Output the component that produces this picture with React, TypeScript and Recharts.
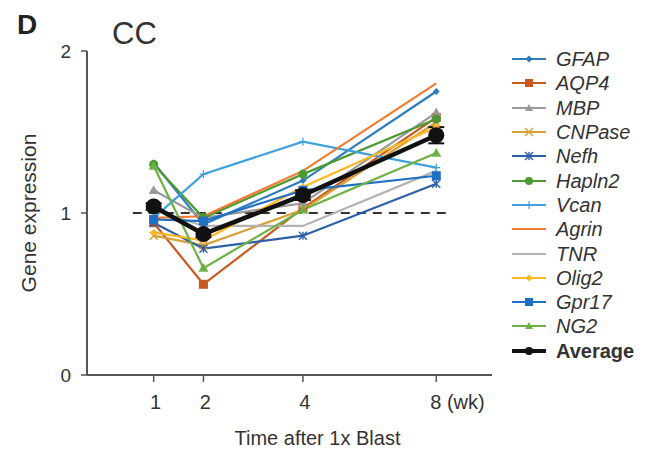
import React from "react";
import { LineChart, Line, XAxis, YAxis, ReferenceLine, ErrorBar } from "recharts";

const FONT = "'Liberation Sans', Arial, Helvetica, sans-serif";

// weeks after blast
const weeks = [1, 2, 4, 8];
const weekLabels = ["1", "2", "4", "8 (wk)"];

// relative gene expression, one value per week
const GFAP = [1.31, 0.93, 1.2, 1.75];
const AQP4 = [0.94, 0.56, 1.03, 1.59];
const MBP = [1.14, 0.97, 1.06, 1.62];
const CNPase = [0.86, 0.8, 1.02, 1.56];
const Nefh = [0.94, 0.78, 0.86, 1.18];
const Hapln2 = [1.3, 0.97, 1.24, 1.58];
const Vcan = [0.97, 1.24, 1.44, 1.28];
const Agrin = [0.97, 0.98, 1.26, 1.8];
const TNR = [1.02, 0.92, 0.92, 1.26];
const Olig2 = [0.88, 0.83, 1.16, 1.53];
const Gpr17 = [0.96, 0.95, 1.14, 1.23];
const NG2 = [1.29, 0.66, 1.02, 1.37];
const Average = [1.04, 0.87, 1.11, 1.48];
const AverageErr = [0.02, 0.02, 0.03, 0.05];

// the original axis squeezes the 4 -> 8 wk gap
const xPos = (w: number) => (w <= 4 ? w : 4 + (w - 4) * 0.67);

const series = [
  { key: "GFAP", values: GFAP, color: "#2f7dbd", shape: "diamond", size: 3.5 },
  { key: "AQP4", values: AQP4, color: "#c9591f", shape: "square", size: 4.5 },
  { key: "MBP", values: MBP, color: "#9a9a9a", shape: "triangle", size: 5 },
  { key: "CNPase", values: CNPase, color: "#d9a035", shape: "cross", size: 4 },
  { key: "Nefh", values: Nefh, color: "#2d5fa9", shape: "star", size: 4 },
  { key: "Hapln2", values: Hapln2, color: "#4c9a32", shape: "circle", size: 4.5 },
  { key: "Vcan", values: Vcan, color: "#3fa1de", shape: "plus", size: 4 },
  { key: "Agrin", values: Agrin, color: "#f07a30", shape: "none", size: 0 },
  { key: "TNR", values: TNR, color: "#b3b3b3", shape: "none", size: 0 },
  { key: "Olig2", values: Olig2, color: "#fbb725", shape: "diamond", size: 3.5 },
  { key: "Gpr17", values: Gpr17, color: "#1f6fc4", shape: "square", size: 4.5 },
  { key: "NG2", values: NG2, color: "#6db244", shape: "triangle", size: 5 },
];

const rows = weeks.map((w, i) => {
  const row: Record<string, number> = { pos: xPos(w), week: w, Average: Average[i], avgErr: AverageErr[i] };
  series.forEach((s) => {
    row[s.key] = s.values[i];
  });
  return row;
});

function Marker({ shape, cx, cy, color, size }: any) {
  const r = size;
  if (shape === "none") return null;
  if (shape === "circle") return <circle cx={cx} cy={cy} r={r} fill={color} />;
  if (shape === "square") return <rect x={cx - r} y={cy - r} width={r * 2} height={r * 2} fill={color} />;
  if (shape === "diamond")
    return <polygon points={`${cx},${cy - r} ${cx + r},${cy} ${cx},${cy + r} ${cx - r},${cy}`} fill={color} />;
  if (shape === "triangle")
    return <polygon points={`${cx},${cy - r} ${cx + r},${cy + r * 0.75} ${cx - r},${cy + r * 0.75}`} fill={color} />;
  if (shape === "plus")
    return (
      <g stroke={color} strokeWidth={1.2}>
        <line x1={cx - r} y1={cy} x2={cx + r} y2={cy} />
        <line x1={cx} y1={cy - r} x2={cx} y2={cy + r} />
      </g>
    );
  if (shape === "cross")
    return (
      <g stroke={color} strokeWidth={1.4}>
        <line x1={cx - r} y1={cy - r} x2={cx + r} y2={cy + r} />
        <line x1={cx - r} y1={cy + r} x2={cx + r} y2={cy - r} />
      </g>
    );
  // asterisk
  return (
    <g stroke={color} strokeWidth={1.4}>
      <line x1={cx - r} y1={cy - r} x2={cx + r} y2={cy + r} />
      <line x1={cx - r} y1={cy + r} x2={cx + r} y2={cy - r} />
      <line x1={cx} y1={cy - r} x2={cx} y2={cy + r} />
    </g>
  );
}

function WeekTick(props: any) {
  const { x, y, payload } = props;
  const idx = weeks.findIndex((w) => Math.abs(xPos(w) - payload.value) < 1e-6);
  const label = weekLabels[idx] ?? "";
  const last = idx === weeks.length - 1;
  return (
    <text
      x={last ? x - 6 : x + 2}
      y={y}
      dy="0.71em"
      textAnchor={last ? "start" : "middle"}
      fill="#333"
      fontSize={20}
      fontFamily={FONT}
    >
      {label}
    </text>
  );
}

function LegendBox() {
  const items = [
    ...series.map((s) => ({ ...s, bold: false, width: 2 })),
    { key: "Average", color: "#111", shape: "circle", size: 4.5, bold: true, width: 4 },
  ];
  return (
    <div style={{ position: "absolute", left: 510, top: 47, fontFamily: FONT }}>
      {items.map((it) => (
        <div key={it.key} style={{ display: "flex", alignItems: "center", height: 24.3 }}>
          <svg width={38} height={14} style={{ marginRight: 8 }}>
            <line x1={2} y1={7} x2={36} y2={7} stroke={it.color} strokeWidth={it.width} />
            <Marker shape={it.shape} cx={19} cy={7} color={it.color} size={Math.min(it.size, 4)} />
          </svg>
          <span
            style={{
              fontSize: 20,
              color: "#333",
              fontStyle: it.bold ? "normal" : "italic",
              fontWeight: it.bold ? "bold" : "normal",
              lineHeight: "24px",
            }}
          >
            {it.key}
          </span>
        </div>
      ))}
    </div>
  );
}

export default function App() {
  return (
    <div
      style={{
        position: "absolute",
        left: 0,
        top: 0,
        width: 647,
        height: 453,
        background: "#fff",
        fontFamily: FONT,
        overflow: "hidden",
      }}
    >
      <div style={{ position: "absolute", left: 17, top: 11, fontSize: 28, fontWeight: "bold", color: "#222", lineHeight: 1 }}>
        D
      </div>
      <div style={{ position: "absolute", left: 112, top: 18, fontSize: 31, color: "#333", lineHeight: 1 }}>CC</div>

      <LineChart width={647} height={453} data={rows} margin={{ top: 51, right: 155, bottom: 6, left: 17 }}>
        <XAxis
          type="number"
          dataKey="pos"
          domain={[-0.34, 7.8]}
          ticks={weeks.map(xPos)}
          tick={<WeekTick />}
          tickSize={7}
          tickMargin={13}
          height={72}
          stroke="#555"
          strokeWidth={2}
          tickLine={{ stroke: "#555", strokeWidth: 1.5 }}
          label={{
            value: "Time after 1x Blast",
            position: "insideBottom",
            offset: 2,
            dx: 28,
            style: { fill: "#333", fontSize: 20, fontFamily: FONT },
          }}
        />
        <YAxis
          type="number"
          domain={[0, 2]}
          ticks={[0, 1, 2]}
          width={70}
          tickSize={6}
          tickMargin={10}
          stroke="#555"
          strokeWidth={2}
          tickLine={{ stroke: "#555", strokeWidth: 1.5 }}
          tick={{ fill: "#333", fontSize: 19, fontFamily: FONT }}
          label={{
            value: "Gene expression",
            angle: -90,
            position: "insideLeft",
            offset: 12,
            style: { fill: "#333", fontSize: 21, fontFamily: FONT, textAnchor: "middle" },
          }}
        />
        <ReferenceLine
          segment={[
            { x: 0.58, y: 1 },
            { x: 7.0, y: 1 },
          ]}
          stroke="#333"
          strokeWidth={2.2}
          strokeDasharray="9 7"
        />
        {series.map((s) => (
          <Line
            key={s.key}
            type="linear"
            dataKey={s.key}
            stroke={s.color}
            strokeWidth={2.2}
            isAnimationActive={false}
            dot={(p: any) => (
              <Marker key={`${s.key}-${p.index}`} shape={s.shape} cx={p.cx} cy={p.cy} color={s.color} size={s.size} />
            )}
            activeDot={false}
          />
        ))}
        <Line
          type="linear"
          dataKey="Average"
          stroke="#111"
          strokeWidth={4.5}
          isAnimationActive={false}
          dot={{ r: 8, fill: "#111", stroke: "none" }}
          activeDot={false}
        >
          <ErrorBar dataKey="avgErr" direction="y" width={8} stroke="#111" strokeWidth={2} />
        </Line>
      </LineChart>

      <LegendBox />
    </div>
  );
}
